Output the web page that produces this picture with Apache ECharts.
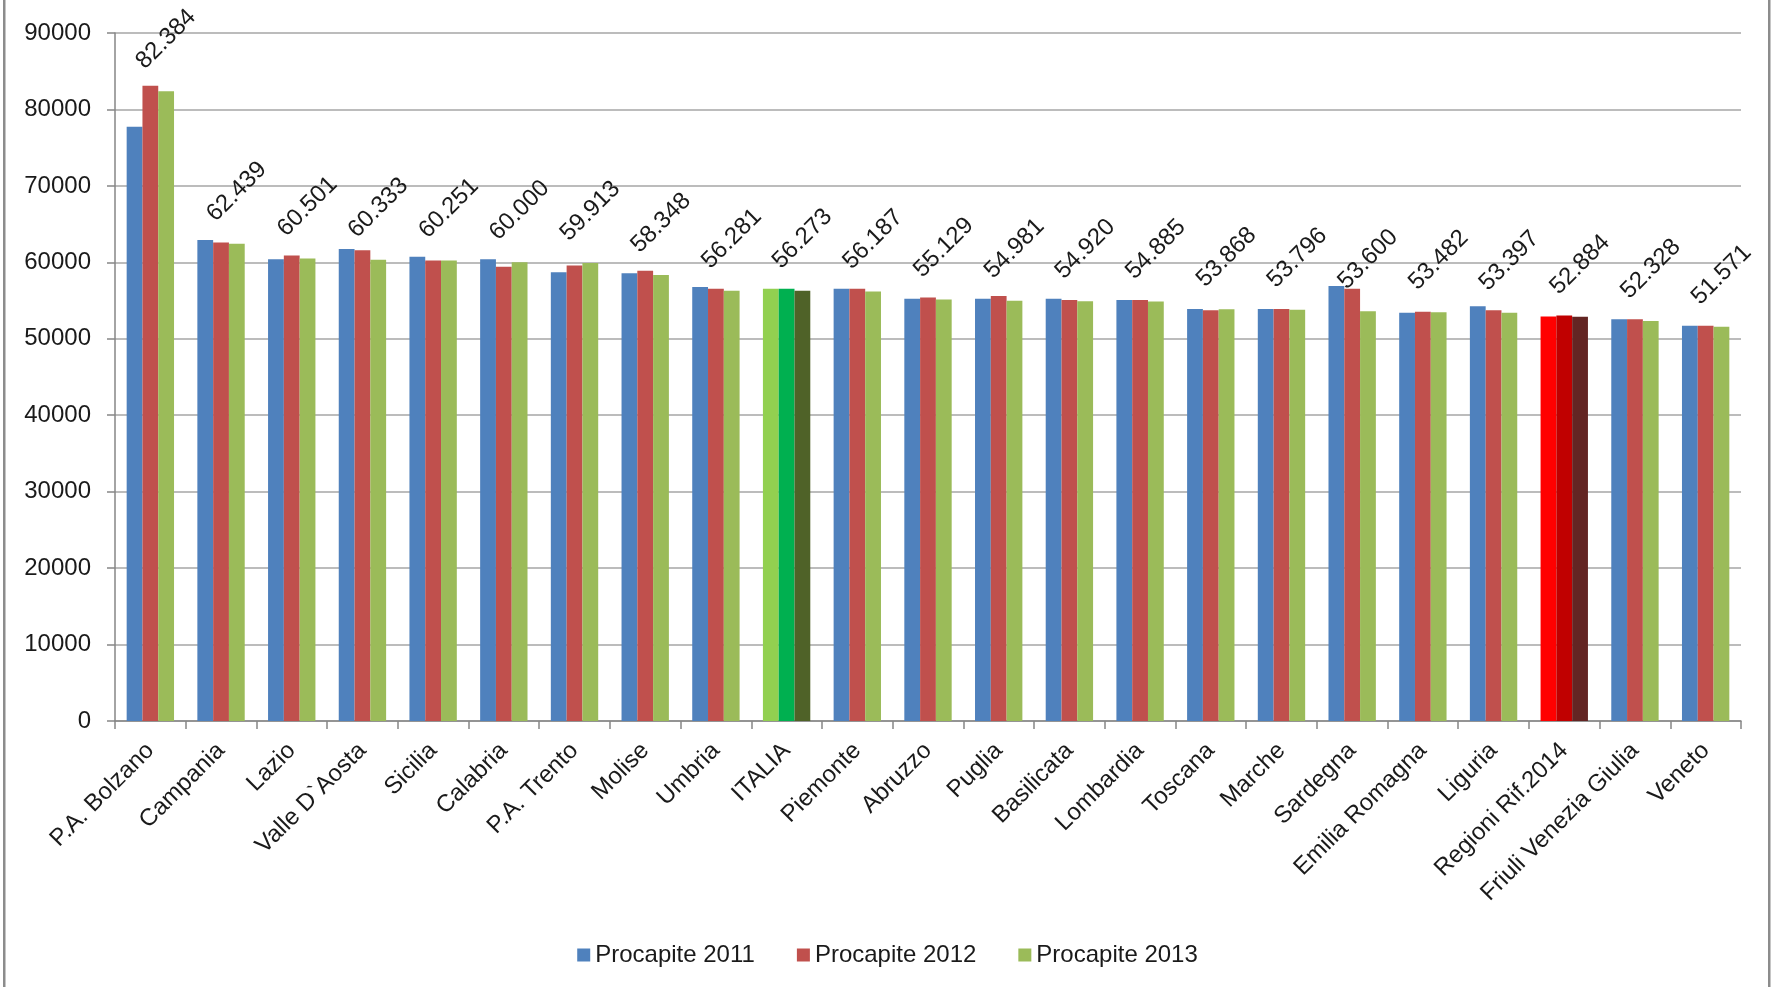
<!DOCTYPE html>
<html>
<head>
<meta charset="utf-8">
<script src="https://cdn.jsdelivr.net/npm/echarts@6/dist/echarts.min.js"></script>
<style>
html,body{margin:0;padding:0;background:#fff;}
#chart{width:1775px;height:987px;}
</style>
</head>
<body>
<div id="chart"></div>
<script>
const categories = ["P.A. Bolzano","Campania","Lazio","Valle D`Aosta","Sicilia","Calabria","P.A. Trento","Molise","Umbria","ITALIA","Piemonte","Abruzzo","Puglia","Basilicata","Lombardia","Toscana","Marche","Sardegna","Emilia Romagna","Liguria","Regioni Rif.2014","Friuli Venezia Giulia","Veneto"];
const seriesNames = ["Procapite 2011","Procapite 2012","Procapite 2013"];
const values2011 = [77750,62930,60400,61760,60720,60400,58710,58580,56760,56540,56540,55240,55240,55240,55060,53890,53890,56890,53410,54240,52900,52540,51720];
const values2012 = [83100,62580,60890,61580,60230,59410,59580,58890,56540,56540,56540,55410,55580,55060,55060,53720,53890,56540,53550,53720,53060,52540,51720];
const values2013 = [82384,62439,60501,60333,60251,60000,59913,58348,56281,56273,56187,55129,54981,54920,54885,53868,53796,53600,53482,53397,52884,52328,51571];
const yTicks = [0,10000,20000,30000,40000,50000,60000,70000,80000,90000];

const baseColors = ["#4F81BD","#C0504D","#9BBB59"];
const specialColors = {
  "ITALIA": ["#92D050","#00B050","#4F6228"],
  "Regioni Rif.2014": ["#FF0000","#C00000","#632523"]
};

const FONT = "Liberation Sans";
const allValues = [values2011, values2012, values2013];

const series = allValues.map((vals, si) => ({
  name: seriesNames[si],
  type: 'bar',
  barGap: '0%',
  barCategoryGap: '33%',
  itemStyle: { color: baseColors[si] },
  data: vals.map((v, i) => {
    const sp = specialColors[categories[i]];
    return sp ? { value: v, itemStyle: { color: sp[si] } } : v;
  }),
  label: si === 2 ? {
    show: true,
    position: 'top',
    distance: 52,
    rotate: 45,
    align: 'center',
    verticalAlign: 'middle',
    fontFamily: FONT,
    fontSize: 24,
    color: '#1a1a1a',
    formatter: p => (p.value / 1000).toFixed(3)
  } : { show: false }
}));

const chart = echarts.init(document.getElementById('chart'), null, { renderer: 'canvas' });
chart.setOption({
  animation: false,
  backgroundColor: '#ffffff',
  grid: { left: 115, right: 34, top: 33, bottom: 266, containLabel: false },
  legend: {
    data: seriesNames,
    left: 'center',
    top: 938,
    icon: 'rect',
    itemWidth: 13,
    itemHeight: 13,
    itemGap: 42,
    textStyle: { fontFamily: FONT, fontSize: 24, color: '#1a1a1a' }
  },
  xAxis: {
    type: 'category',
    data: categories,
    axisLine: { lineStyle: { color: '#868686', width: 1.5 } },
    axisTick: { show: true, length: 8, lineStyle: { color: '#868686', width: 1.5 } },
    axisLabel: {
      interval: 0,
      rotate: 45,
      margin: 26,
      fontFamily: FONT,
      fontSize: 24,
      color: '#1a1a1a'
    }
  },
  yAxis: {
    type: 'value',
    min: yTicks[0],
    max: yTicks[yTicks.length - 1],
    interval: yTicks[1] - yTicks[0],
    axisLine: { show: true, lineStyle: { color: '#868686', width: 1.5 } },
    axisTick: { show: true, length: 8, lineStyle: { color: '#868686', width: 1.5 } },
    axisLabel: { margin: 24, fontFamily: FONT, fontSize: 24, color: '#1a1a1a', formatter: v => String(v) },
    splitLine: { lineStyle: { color: '#a6a6a6', width: 1.5 } }
  },
  graphic: [
    { type: 'rect', shape: { x: 3, y: 0, width: 2.5, height: 987 }, style: { fill: '#8c8c8c' }, silent: true },
    { type: 'rect', shape: { x: 1768, y: 0, width: 2.5, height: 987 }, style: { fill: '#8c8c8c' }, silent: true }
  ],
  series: series
});
</script>
</body>
</html>
